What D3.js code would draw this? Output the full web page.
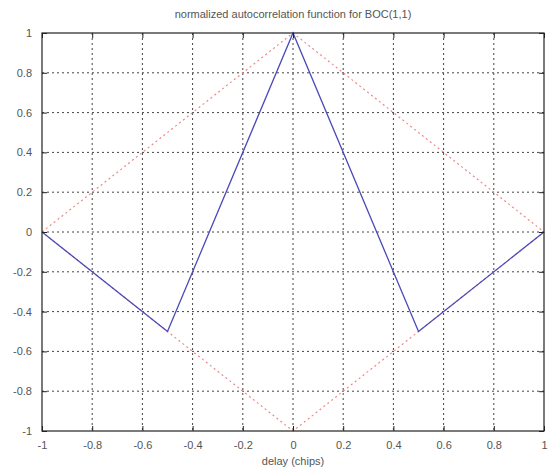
<!DOCTYPE html>
<html>
<head>
<meta charset="utf-8">
<title>BOC(1,1) autocorrelation</title>
<script src="https://d3js.org/d3.v7.min.js"></script>
<style>
body { margin: 0; background: #fff; }
text { font-family: "Liberation Sans", Arial, sans-serif; fill: #555; }
</style>
</head>
<body>
<svg id="chart" width="548" height="472"></svg>
<script>
// data
const bocDelay = [-1, -0.5, 0, 0.5, 1];
const bocValue = [0, -0.5, 1, -0.5, 0];
const diamondDelay = [-1, 0, 1, 0, -1];
const diamondValue = [0, 1, 0, -1, 0];
const xTicks = [-1, -0.8, -0.6, -0.4, -0.2, 0, 0.2, 0.4, 0.6, 0.8, 1];
const yTicks = [-1, -0.8, -0.6, -0.4, -0.2, 0, 0.2, 0.4, 0.6, 0.8, 1];

const svg = d3.select("#chart");
const plotL = 42, plotR = 544, plotT = 33, plotB = 431;

const x = d3.scaleLinear().domain([-1, 1]).range([plotL, plotR]);
const y = d3.scaleLinear().domain([-1, 1]).range([plotB, plotT]);
// matlab prints a plain hyphen, not the unicode minus
const fmt = d => String(d);

// dotted grid
svg.append("g").selectAll("line")
  .data(xTicks.slice(1, -1)).enter().append("line")
  .attr("x1", d => x(d)).attr("x2", d => x(d))
  .attr("y1", plotT).attr("y2", plotB)
  .attr("stroke", "#444").attr("stroke-width", 1)
  .attr("stroke-dasharray", "2,3");
svg.append("g").selectAll("line")
  .data(yTicks.slice(1, -1)).enter().append("line")
  .attr("y1", d => y(d)).attr("y2", d => y(d))
  .attr("x1", plotL).attr("x2", plotR)
  .attr("stroke", "#444").attr("stroke-width", 1)
  .attr("stroke-dasharray", "2,3");

// lines
const line = d3.line().x(d => x(d[0])).y(d => y(d[1]));
svg.append("path")
  .datum(diamondDelay.map((d, i) => [d, diamondValue[i]]))
  .attr("d", line).attr("fill", "none")
  .attr("stroke", "#ee8888").attr("stroke-width", 1.2)
  .attr("stroke-dasharray", "2,3");
svg.append("path")
  .datum(bocDelay.map((d, i) => [d, bocValue[i]]))
  .attr("d", line).attr("fill", "none")
  .attr("stroke", "#4a4ab8").attr("stroke-width", 1.3);

// axes, ticks inside like matlab
const tickLen = -5;
svg.append("g").attr("transform", `translate(0,${plotB})`)
  .call(d3.axisBottom(x).tickValues(xTicks).tickSizeInner(tickLen).tickSizeOuter(0)
    .tickPadding(10).tickFormat(fmt))
  .call(g => g.select(".domain").remove());
svg.append("g").attr("transform", `translate(0,${plotT})`)
  .call(d3.axisTop(x).tickValues(xTicks).tickSizeInner(tickLen).tickSizeOuter(0).tickFormat(""))
  .call(g => g.select(".domain").remove());
svg.append("g").attr("transform", `translate(${plotL},0)`)
  .call(d3.axisLeft(y).tickValues(yTicks).tickSizeInner(tickLen).tickSizeOuter(0)
    .tickPadding(10).tickFormat(fmt))
  .call(g => g.select(".domain").remove());
svg.append("g").attr("transform", `translate(${plotR},0)`)
  .call(d3.axisRight(y).tickValues(yTicks).tickSizeInner(tickLen).tickSizeOuter(0).tickFormat(""))
  .call(g => g.select(".domain").remove());

svg.selectAll(".tick line").attr("stroke", "#222");
svg.selectAll(".tick text").attr("font-size", 11).attr("fill", "#555");

svg.append("rect")
  .attr("x", plotL).attr("y", plotT)
  .attr("width", plotR - plotL).attr("height", plotB - plotT)
  .attr("fill", "none").attr("stroke", "#222").attr("stroke-width", 1.2);

// labels
svg.append("text").attr("x", (plotL + plotR) / 2).attr("y", 18)
  .attr("text-anchor", "middle").attr("font-size", 11)
  .text("normalized autocorrelation function for BOC(1,1)");
svg.append("text").attr("x", (plotL + plotR) / 2).attr("y", 465)
  .attr("text-anchor", "middle").attr("font-size", 11)
  .text("delay (chips)");
</script>
</body>
</html>
